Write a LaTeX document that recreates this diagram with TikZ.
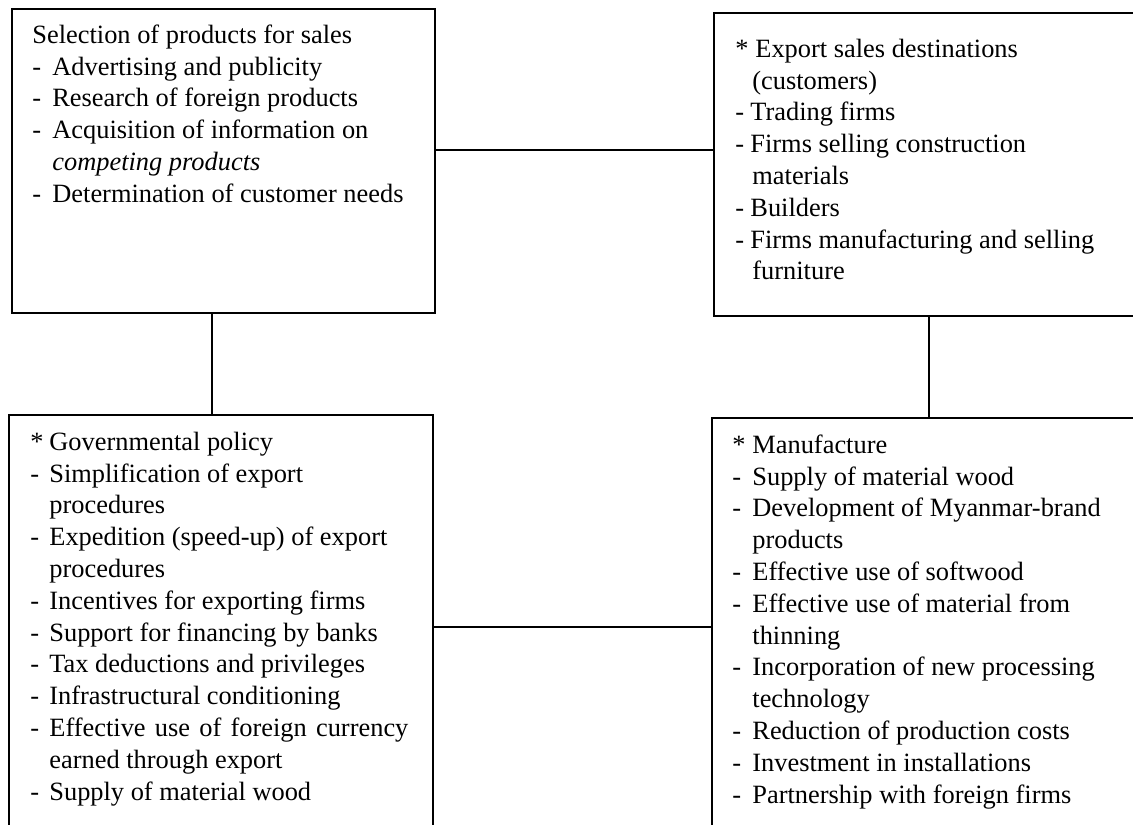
\documentclass[tikz,border=0pt]{standalone}
\usepackage{fontspec}
\setmainfont{Liberation Serif}
\newcommand{\hd}[2]{\makebox[#1][l]{#2}}
\begin{document}
\begin{tikzpicture}[x=0.5pt,y=-0.5pt,
  box/.style={draw, line width=1.1pt, rectangle, inner sep=0pt, anchor=north west},
  txt/.style={anchor=north west, inner sep=0pt, align=left, font=\fontsize{13.2}{15.9}\selectfont},
  conn/.style={line width=1.1pt}]
\useasboundingbox (0,0) rectangle (1133,824);
\clip (0,0) rectangle (1133,824);
\fill[white] (0,0) rectangle (1133,824);

\node[box, minimum width=211.5pt, minimum height=152pt] (tl) at (11,8) {};
\node[box, minimum width=218.5pt, minimum height=151.5pt] (tr) at (713,12) {};
\node[box, minimum width=212pt, minimum height=218pt] (bl) at (8,414) {};
\node[box, minimum width=219.5pt, minimum height=216.5pt] (br) at (711,417) {};

\node[txt] (tltxt) at (32,20.7) {\strut Selection of products for sales\\
\hd{10pt}{-}Advertising and publicity\\
\hd{10pt}{-}Research of foreign products\\
\hd{10pt}{-}Acquisition of information on\\
\hspace*{10pt}\textit{competing products}\\
\hd{10pt}{-}Determination of customer needs};

\node[txt] (trtxt) at (735,34.7) {\strut\hd{10pt}{*}Export sales destinations\\
\hspace*{8.5pt}(customers)\\
\hd{7.5pt}{-}Trading firms\\
\hd{7.5pt}{-}Firms selling construction\\
\hspace*{8.5pt}materials\\
\hd{7.5pt}{-}Builders\\
\hd{7.5pt}{-}Firms manufacturing and selling\\
\hspace*{8.5pt}furniture};

\node[txt] (bltxt) at (30,427.7) {\strut\hd{9.5pt}{*}Governmental policy\\
\hd{9.5pt}{-}Simplification of export\\
\hspace*{9.5pt}procedures\\
\hd{9.5pt}{-}Expedition (speed-up) of export\\
\hspace*{9.5pt}procedures\\
\hd{9.5pt}{-}Incentives for exporting firms\\
\hd{9.5pt}{-}Support for financing by banks\\
\hd{9.5pt}{-}Tax deductions and privileges\\
\hd{9.5pt}{-}Infrastructural conditioning\\
\hd{9.5pt}{-}\makebox[179.5pt][s]{Effective use of foreign currency}\\
\hspace*{9.5pt}earned through export\\
\hd{9.5pt}{-}Supply of material wood};

\node[txt] (brtxt) at (732,430.7) {\strut\hd{10pt}{*}Manufacture\\
\hd{10pt}{-}Supply of material wood\\
\hd{10pt}{-}Development of Myanmar-brand\\
\hspace*{10pt}products\\
\hd{10pt}{-}Effective use of softwood\\
\hd{10pt}{-}Effective use of material from\\
\hspace*{10pt}thinning\\
\hd{10pt}{-}Incorporation of new processing\\
\hspace*{10pt}technology\\
\hd{10pt}{-}Reduction of production costs\\
\hd{10pt}{-}Investment in installations\\
\hd{10pt}{-}Partnership with foreign firms};

\coordinate (h1) at (0,150);
\coordinate (h2) at (0,627);
\coordinate (v1) at (212,0);
\coordinate (v2) at (929,0);
\draw[conn] (tl.east |- h1) -- (tr.west |- h1);
\draw[conn] (tl.south -| v1) -- (bl.north -| v1);
\draw[conn] (tr.south -| v2) -- (br.north -| v2);
\draw[conn] (bl.east |- h2) -- (br.west |- h2);
\end{tikzpicture}
\end{document}
